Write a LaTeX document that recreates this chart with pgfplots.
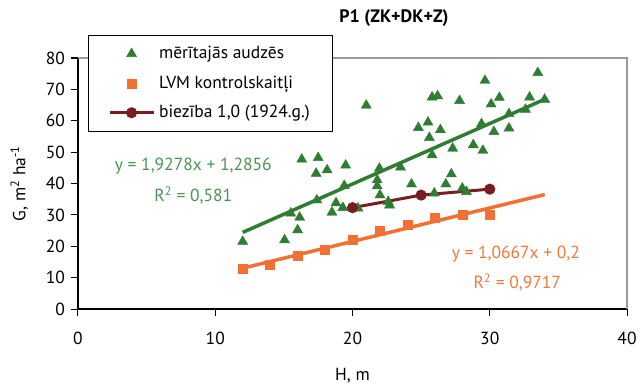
\documentclass[border=0pt]{standalone}
\usepackage{pgfplots}
\pgfplotsset{compat=1.18}
\usepackage{fontspec}
\setmainfont{PT Sans}
\definecolor{tgreen}{RGB}{46,125,50}
\definecolor{eqgreen}{RGB}{72,148,82}
\definecolor{torange}{RGB}{242,112,50}
\definecolor{eqorange}{RGB}{240,120,60}
\definecolor{tred}{RGB}{120,30,35}
\newcommand{\fs}{\fontsize{17.5bp}{20bp}\selectfont}
\begin{document}
\fs
\begin{tikzpicture}[x=1bp,y=1bp]
\useasboundingbox (-78,-77) rectangle (563,309);
\begin{axis}[
 at={(0,0)}, anchor=south west,
 scale only axis, width=549bp, height=251bp,
 xmin=0,xmax=40,ymin=0,ymax=80,
 xtick={0,10,...,40}, ytick={0,10,...,80},
 axis x line*=bottom, axis y line*=left,
 axis line style={black, line width=1.1bp, -},
 tick align=outside, major tick length=7bp,
 tick style={black, line width=1bp},
 /pgf/number format/assume math mode=true,
 tick label style={font=\fs},
 xticklabel style={yshift=-10bp},
 label style={font=\fs},
 xlabel={H, m}, ylabel={G, m\textsuperscript{2} ha\textsuperscript{-1}},
 xlabel style={yshift=-12bp},
 ylabel style={yshift=6bp},
 clip=false,
 legend style={at={(0.018,1.0916)}, anchor=north west, draw=black, fill=white,
   font=\fs, inner xsep=20bp, inner ysep=9bp,
   row sep=10.5bp, column sep=2bp},
 legend cell align=left,
 legend image code/.code={\draw[mark repeat=2,mark phase=2,#1] plot coordinates {(0bp,0bp) (22bp,0bp) (44bp,0bp)};},
]
% trendlines
\addplot[forget plot, tgreen, line width=3.5bp] coordinates {(12,24.42) (34,66.83)};
\addplot[forget plot, torange, line width=3.5bp] coordinates {(12,13.0) (34,36.47)};

\addplot[only marks, mark=triangle*, mark size=5.8bp, color=tgreen, mark options={fill=tgreen, draw=tgreen}] coordinates {
(12.0,21.5) (15.05,22.0) (16.0,25.2) (16.15,29.2) (15.5,30.5) (16.3,47.7) (17.5,48.2)
(17.35,43.2) (18.15,44.3) (19.5,45.8) (19.4,39.3) (17.4,34.7) (18.8,33.8) (18.5,30.8)
(19.3,32.3) (20.4,32.1) (33.5,75.3) (29.65,72.8) (25.8,67.5) (26.2,67.9) (27.8,66.4)
(21.0,64.9) (30.7,67.4) (30.1,65.3) (32.9,67.5) (34.0,66.8) (32.6,63.6) (31.4,62.2)
(31.4,57.6) (30.3,56.5) (29.4,59.0) (24.8,57.8) (25.5,59.5) (26.4,57.1) (25.6,54.6)
(27.3,51.2) (28.8,52.3) (29.5,50.5) (25.8,49.1) (23.5,45.2) (21.96,44.8) (21.8,41.1)
(21.8,39.2) (22.0,36.3) (24.3,39.8) (27.2,43.0) (26.8,39.8) (28.0,38.5) (28.3,37.4)
(25.96,36.9) (22.6,34.2) (22.7,33.1)
};
\addlegendentry{mērītajās audzēs}
\addplot[only marks, mark=square*, mark size=4.5bp, color=torange, mark options={fill=torange, draw=torange}] coordinates {
(12,13) (14,14) (16,17) (18,19) (20,22) (22,25) (24,27) (26,29) (28,30) (30,30)
};
\addlegendentry{LVM kontrolskaitļi}
\addplot[tred, line width=3bp, mark=*, mark size=4bp, mark options={fill=tred, draw=tred}] coordinates {
(20,32.3) (25,36.3) (30,38.2)
};
\addlegendentry{biezība 1,0 (1924.g.)}

\draw[gray!80, line width=1.1bp] (rel axis cs:0,1) -- (rel axis cs:1,1) -- (rel axis cs:1,0);

\node[eqgreen, font=\fs] at (axis cs:8.4,45.6) {y = 1,9278x + 1,2856};
\node[eqgreen, font=\fs] at (axis cs:8.4,36.3) {R\textsuperscript{2} = 0,581};
\node[eqorange, font=\fs] at (axis cs:31.9,17.5) {y = 1,0667x + 0,2};
\node[eqorange, font=\fs] at (axis cs:32.0,8.4) {R\textsuperscript{2} = 0,9717};
\end{axis}
\node[font=\bfseries\fontsize{18bp}{20bp}\selectfont] at (316,291) {P1 (ZK+DK+Z)};
\end{tikzpicture}
\end{document}
